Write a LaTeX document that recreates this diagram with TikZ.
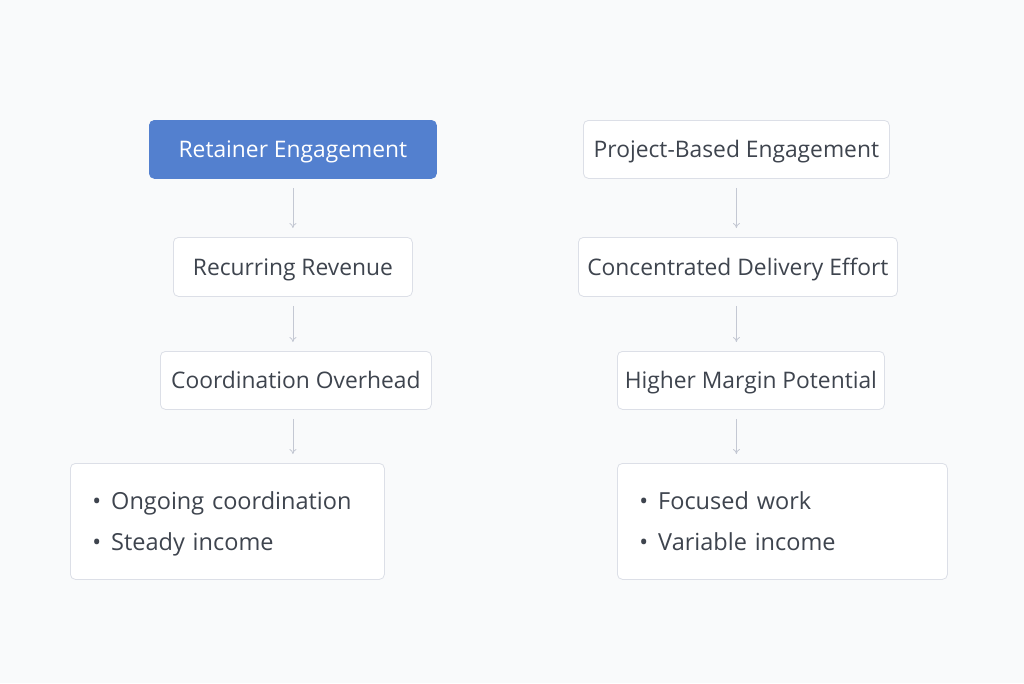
\documentclass[tikz,border=0pt]{standalone}
\usepackage{fontspec}
\setmainfont{Open Sans}
\usetikzlibrary{arrows.meta}
\definecolor{boxline}{HTML}{DCDFE7}
\definecolor{ink}{HTML}{3E444E}
\definecolor{retblue}{HTML}{5380CF}
\definecolor{arrowgray}{HTML}{C4C8D3}
\definecolor{pagebg}{HTML}{F9FAFB}
\begin{document}
\begin{tikzpicture}[x=1pt,y=-1pt,%
                stepbox/.style={draw=boxline,fill=white,rounded corners=5pt,line width=0.8pt,
                        text=ink,font=\fontsize{22.8}{27}\selectfont,inner sep=0pt,anchor=north west,
                        text height=16.4pt,text depth=0pt},
                listbox/.style={stepbox,minimum height=116pt,align=left,inner xsep=22pt,
                        text height={},text depth={},font=\fontsize{23.5}{41}\selectfont},
                flowarrow/.style={draw=arrowgray,line width=0.8pt,-{To[length=5pt,width=7pt]},
                        shorten <=9pt,shorten >=9pt}
        ]
            \fill [pagebg] (0,0) rectangle (1024,683);
            \useasboundingbox (0,0) rectangle (1024,683);
            % left column
            \node [stepbox,fill=retblue,draw=retblue,text=white,minimum width=287pt,minimum height=58pt]
                    (retainer) at (149,120) {Retainer Engagement};
            \node [stepbox,minimum width=239pt,minimum height=59pt] (recurring) at (173,237) {Recurring Revenue};
            \node [stepbox,minimum width=271pt,minimum height=58pt] (overhead) at (160,351) {Coordination Overhead};
            \node [listbox,minimum width=314pt,text width=270pt] (leftlist) at (70,463)
                    {\textbullet\hspace{10pt}Ongoing coordination\strut\\ \textbullet\hspace{10pt}Steady income\strut};
            % right column
            \node [stepbox,minimum width=306pt,minimum height=58pt] (project) at (583,120) {Project-Based Engagement};
            \node [stepbox,minimum width=319pt,minimum height=59pt] (delivery) at (578,237) {Concentrated Delivery Effort};
            \node [stepbox,minimum width=267pt,minimum height=58pt] (margin) at (617,351) {Higher Margin Potential};
            \node [listbox,minimum width=330pt,text width=286pt] (rightlist) at (617,463)
                    {\textbullet\hspace{10pt}Focused work\strut\\ \textbullet\hspace{10pt}Variable income\strut};
            % connectors
            \draw [flowarrow] (retainer.south) -- (retainer.south |- recurring.north);
            \draw [flowarrow] (recurring.south) -- (recurring.south |- overhead.north);
            \draw [flowarrow] (recurring.south |- overhead.south) -- (recurring.south |- leftlist.north);
            \draw [flowarrow] (project.south) -- (project.south |- delivery.north);
            \draw [flowarrow] (project.south |- delivery.south) -- (project.south |- margin.north);
            \draw [flowarrow] (project.south |- margin.south) -- (project.south |- rightlist.north);
        \end{tikzpicture}
\end{document}
